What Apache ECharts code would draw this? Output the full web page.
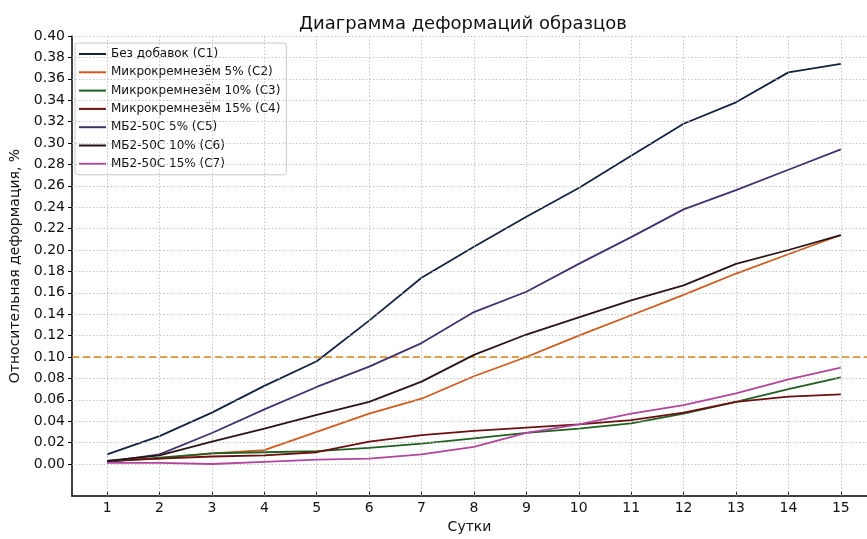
<!DOCTYPE html>
<html>
<head>
<meta charset="utf-8">
<script src="https://cdn.jsdelivr.net/npm/echarts@6/dist/echarts.min.js"></script>
<style>html,body{margin:0;padding:0;background:#fff}#c{width:867px;height:539px}</style>
</head>
<body>
<div id="c"></div>
<script>
const days = [1,2,3,4,5,6,7,8,9,10,11,12,13,14,15];
const yTicks = [0,0.02,0.04,0.06,0.08,0.10,0.12,0.14,0.16,0.18,0.20,0.22,0.24,0.26,0.28,0.30,0.32,0.34,0.36,0.38,0.40];
const seriesNames = ['Без добавок (C1)','Микрокремнезём 5% (C2)','Микрокремнезём 10% (C3)','Микрокремнезём 15% (C4)','МБ2-50С 5% (C5)','МБ2-50С 10% (C6)','МБ2-50С 15% (C7)'];
const c1 = [0.009,0.026,0.048,0.073,0.096,0.134,0.174,0.203,0.231,0.258,0.288,0.318,0.338,0.366,0.374];
const c2 = [0.003,0.005,0.010,0.013,0.030,0.047,0.061,0.082,0.100,0.120,0.139,0.158,0.178,0.196,0.214];
const c3 = [0.002,0.006,0.010,0.011,0.012,0.015,0.019,0.024,0.029,0.033,0.038,0.047,0.058,0.070,0.081];
const c4 = [0.003,0.005,0.007,0.008,0.011,0.021,0.027,0.031,0.034,0.037,0.041,0.048,0.058,0.063,0.065];
const c5 = [0.002,0.009,0.029,0.051,0.072,0.091,0.113,0.142,0.161,0.187,0.212,0.238,0.256,0.275,0.294];
const c6 = [0.003,0.008,0.021,0.033,0.046,0.058,0.077,0.102,0.121,0.137,0.153,0.167,0.187,0.200,0.214];
const c7 = [0.001,0.001,0.000,0.002,0.004,0.005,0.009,0.016,0.029,0.037,0.047,0.055,0.066,0.079,0.090];
const threshold = 0.10;
const colors = ['#13233f','#cf5b1c','#1f5f1f','#6b0f10','#43306e','#2a1414','#b2459e'];
const allData = [c1,c2,c3,c4,c5,c6,c7];

const font = 'DejaVu Sans';
const chart = echarts.init(document.getElementById('c'), null, {renderer:'canvas'});
const gridStyle = {color:'#b5b5b5', width:0.8, type:[1.5,2]};

const series = [{
  type:'line', data:[], z:1, silent:true,
  markLine:{
    silent:true, symbol:'none', animation:false,
    label:{show:false},
    lineStyle:gridStyle,
    data: days.map(d=>({xAxis:d})).concat(yTicks.map(v=>({yAxis:v})))
  }
},{
  type:'line', data:[], z:1, silent:true,
  markLine:{
    silent:true, symbol:'none', animation:false,
    label:{show:false},
    lineStyle:{color:'#d08a1e', width:1.7, type:[7,4]},
    data:[{yAxis:threshold}]
  }
}];
allData.forEach((arr,i)=>{
  series.push({
    name:seriesNames[i], type:'line', z:2+i,
    data: days.map((d,j)=>[d,arr[j]]),
    showSymbol:false, symbol:'none',
    lineStyle:{color:colors[i], width:1.8},
    itemStyle:{color:colors[i]}
  });
});

chart.setOption({
  animation:false,
  title:{
    text:'Диаграмма деформаций образцов',
    left:458, top:10, textAlign:'center',
    textStyle:{fontFamily:font, fontSize:18, fontWeight:'normal', color:'#111'}
  },
  legend:{
    data:seriesNames,
    orient:'vertical', left:75, top:43,
    itemWidth:27, itemHeight:2, icon:'rect', itemGap:4.3,
    padding:[4,6,4,4],
    borderColor:'#c8c8c8', borderWidth:1, borderRadius:3,
    backgroundColor:'#fff',
    textStyle:{fontFamily:font, fontSize:12, color:'#111', lineHeight:14}
  },
  grid:{left:70, right:0, top:36, bottom:34, containLabel:false},
  xAxis:{
    type:'value', min:0.33, max:15.5,
    name:'Сутки', nameLocation:'middle', nameGap:20,
    nameTextStyle:{fontFamily:font, fontSize:14, color:'#111'},
    axisLine:{show:true, onZero:false, lineStyle:{color:'#000', width:1.5}},
    axisTick:{show:true, inside:true, length:5, customValues:days, lineStyle:{color:'#000'}},
    axisLabel:{customValues:days, margin:5, fontFamily:font, fontSize:14, color:'#111'},
    splitLine:{show:false}
  },
  yAxis:{
    type:'value', min:-0.03, max:0.40,
    name:'Относительная деформация, %', nameLocation:'middle', nameGap:50, nameRotate:90,
    nameTextStyle:{fontFamily:font, fontSize:14, color:'#111'},
    axisLine:{show:true, onZero:false, lineStyle:{color:'#000', width:1.5}},
    axisTick:{show:true, inside:false, length:4, customValues:yTicks, lineStyle:{color:'#000'}},
    axisLabel:{customValues:yTicks, margin:7, fontFamily:font, fontSize:14, color:'#111',
      formatter:v=>Number(v).toFixed(2)},
    splitLine:{show:false}
  },
  series:series
});
</script>
</body>
</html>
